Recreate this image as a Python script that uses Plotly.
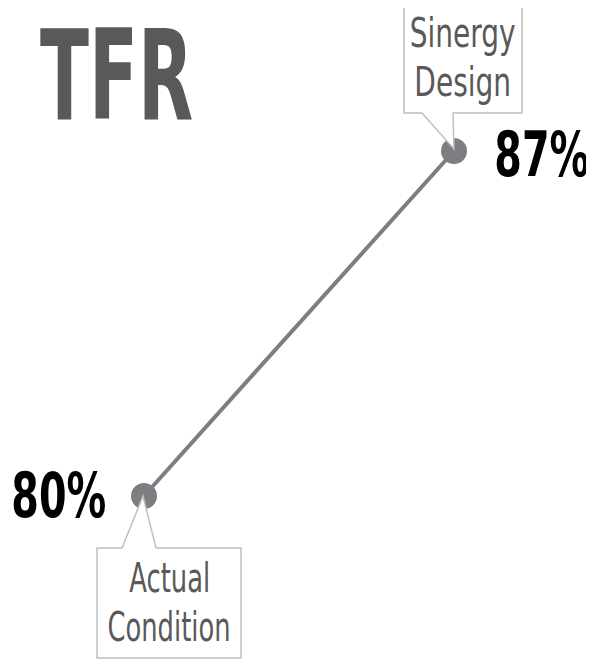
import plotly.graph_objects as go

# Data
categories = ["Actual Condition", "Sinergy Design"]
x_pos = [0, 1]
values = [80, 87]
value_labels = ["80%", "87%"]
title_text = "TFR"

FONT = "DejaVu Sans Condensed, DejaVu Sans, sans-serif"
LINE_COLOR = "#7d7e82"
BOX_COLOR = "#bfbfbf"
TEXT_GREY = "#595959"

W, H = 586, 652  # page body has an 8px margin

fig = go.Figure()
fig.add_trace(go.Scatter(
    x=x_pos, y=values, mode="lines+markers",
    line=dict(color=LINE_COLOR, width=4),
    marker=dict(color=LINE_COLOR, size=26),
    hoverinfo="skip", showlegend=False,
))

# Callout shapes (pixel paths anchored on data points)
top_path = "M -50,38 L -32,38 L 0,2 L -1,38 L 68,38 L 68,147 L -50,147 Z"
bot_path = "M -47,-52 L -22,-52 L -1,0 L 12,-52 L 97,-52 L 97,-162 L -47,-162 Z"
for xi, yi, p in [(x_pos[1], values[1], top_path), (x_pos[0], values[0], bot_path)]:
    fig.add_shape(type="path", xref="x", yref="y", xsizemode="pixel", ysizemode="pixel",
                  xanchor=xi, yanchor=yi, path=p,
                  line=dict(color=BOX_COLOR, width=1.5), fillcolor="white", layer="above")

annotations = []
# value labels (0, 1)
annotations.append(dict(x=x_pos[1], y=values[1], text=value_labels[1], showarrow=False,
                        xanchor="center", yanchor="middle", xshift=88, yshift=-3,
                        font=dict(family=FONT, size=63, color="black", weight="bold")))
annotations.append(dict(x=x_pos[0], y=values[0], text=value_labels[0], showarrow=False,
                        xanchor="center", yanchor="middle", xshift=-85, yshift=1,
                        font=dict(family=FONT, size=63, color="black", weight="bold")))
# callout texts (2..5)
top_words = categories[1].split(" ")
bot_words = categories[0].split(" ")
for word, ys in zip(top_words, [118, 69]):
    annotations.append(dict(x=x_pos[1], y=values[1], text=word, showarrow=False,
                            xanchor="center", yanchor="middle", xshift=8, yshift=ys,
                            font=dict(family=FONT, size=41, color=TEXT_GREY)))
for word, ys in zip(bot_words, [-82, -131]):
    annotations.append(dict(x=x_pos[0], y=values[0], text=word, showarrow=False,
                            xanchor="center", yanchor="middle", xshift=25, yshift=ys,
                            font=dict(family=FONT, size=41, color=TEXT_GREY)))
# title (6)
annotations.append(dict(x=30 / W, y=1 - 67 / H, xref="paper", yref="paper", text=title_text,
                        showarrow=False, xanchor="left", yanchor="middle",
                        font=dict(family=FONT, size=95, color=TEXT_GREY, weight="bold")))

fig.update_layout(
    width=W, height=H,
    margin=dict(l=0, r=0, t=0, b=0),
    paper_bgcolor="white", plot_bgcolor="white",
    xaxis=dict(range=[-0.4387, 1.4516], visible=False, fixedrange=True),
    yaxis=dict(range=[76.6725, 89.9015], visible=False, fixedrange=True),
    annotations=annotations,
)

# Narrow the glyphs horizontally to mimic the condensed typeface of the original
css = (
    ".annotation-text{transform-box:fill-box;transform-origin:center;transform:scaleX(0.72);}"
    ".annotation[data-index='0'] .annotation-text,.annotation[data-index='1'] .annotation-text{transform:scaleX(0.70);}"
    ".annotation[data-index='2'] .annotation-text,.annotation[data-index='3'] .annotation-text{transform:scaleX(0.76);}"
    ".annotation[data-index='4'] .annotation-text,.annotation[data-index='5'] .annotation-text{transform:scaleX(0.70);}"
    ".annotation[data-index='6'] .annotation-text{transform-origin:left center;transform:scale(0.84,1.32);}"
)
post = "var s=document.createElement('style');s.textContent=\"" + css + "\";document.head.appendChild(s);"

fig.write_html("out.html", post_script=post)
